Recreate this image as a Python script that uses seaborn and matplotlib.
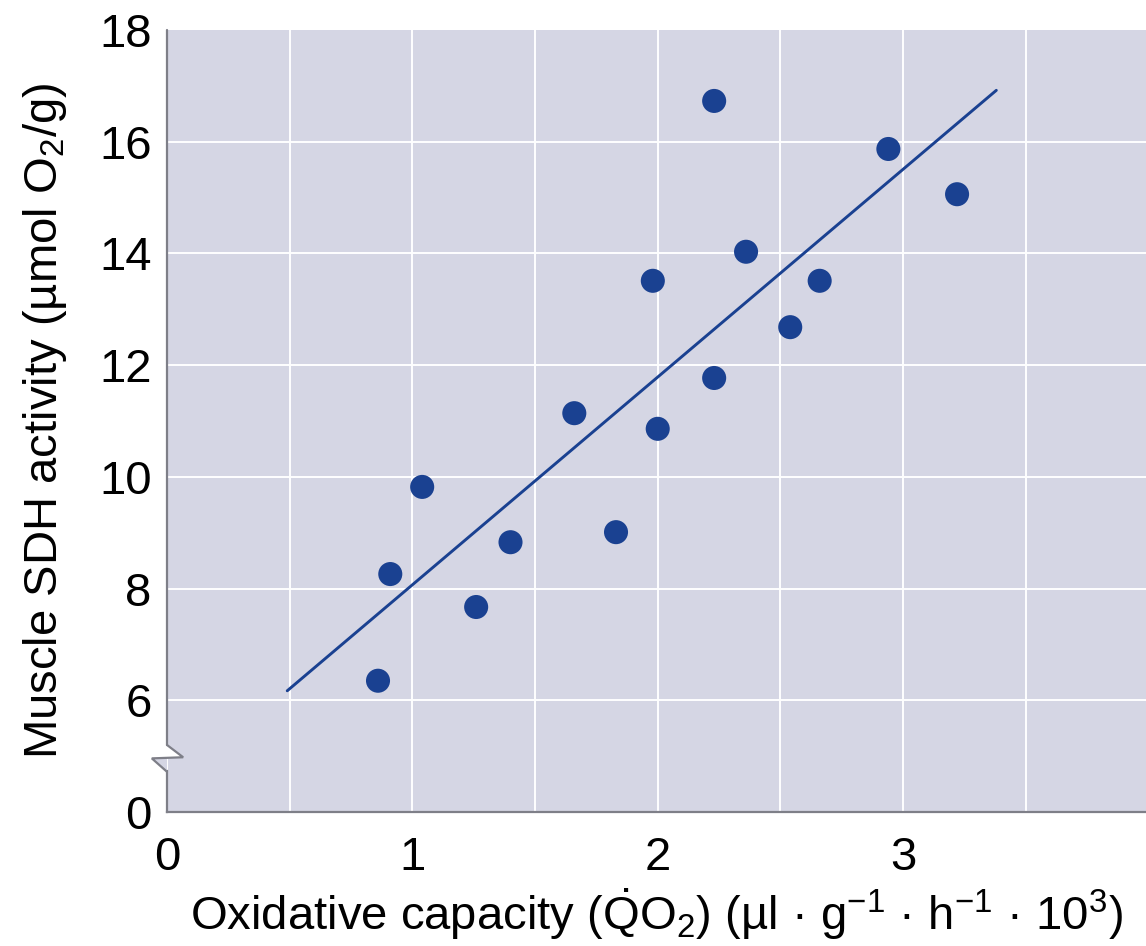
import numpy as np
import pandas as pd
import seaborn as sns
import matplotlib.pyplot as plt
from matplotlib.patches import Polygon

# Oxidative capacity (x) vs muscle SDH activity (y), one value per subject
oxidative_capacity = [0.86, 0.91, 1.04, 1.26, 1.40, 1.66, 1.83, 1.98, 2.00,
                      2.23, 2.23, 2.36, 2.54, 2.66, 2.94, 3.22]
sdh_activity = [6.35, 8.26, 9.82, 7.67, 8.83, 11.14, 9.01, 13.51, 10.86,
                16.73, 11.77, 14.03, 12.68, 13.51, 15.87, 15.06]

# Regression line end points
fit_x = [0.49, 3.38]
fit_y = [6.17, 16.92]

# Y axis is broken below 6: the "0" tick sits one step under 6
ytick_pos = [4, 6, 8, 10, 12, 14, 16, 18]
ytick_labels = ["0", "6", "8", "10", "12", "14", "16", "18"]
xtick_pos = [0, 1, 2, 3]
xtick_labels = ["0", "1", "2", "3"]

BG = "#d5d6e4"
DOT = "#1a4191"
SPINE = "#7e7f88"

sns.set_theme(style="whitegrid")
plt.rcParams["font.family"] = ["Liberation Sans", "DejaVu Sans"]
plt.rcParams["mathtext.fontset"] = "custom"
plt.rcParams["mathtext.rm"] = "Liberation Sans"
plt.rcParams["mathtext.it"] = "Liberation Sans:italic"
plt.rcParams["mathtext.bf"] = "Liberation Sans:bold"
plt.rcParams["text.color"] = "black"
plt.rcParams["axes.labelcolor"] = "black"

fig = plt.figure(figsize=(11.46, 9.46), dpi=100)
ax = fig.add_axes([167 / 1146, 1 - 812 / 946, 979 / 1146, 782 / 946])
ax.set_facecolor(BG)

df = pd.DataFrame({"x": oxidative_capacity, "y": sdh_activity})
fit = pd.DataFrame({"x": fit_x, "y": fit_y})

sns.lineplot(data=fit, x="x", y="y", ax=ax, color=DOT, linewidth=2.1, zorder=3)
sns.scatterplot(data=df, x="x", y="y", ax=ax, color=DOT, s=300,
                edgecolor="none", zorder=4)

ax.set_xlim(0, 3.99)
ax.set_ylim(4, 18)
ax.set_xticks([0.5, 1.5, 2.5, 3.5], minor=True)
ax.set_xticks(xtick_pos)
ax.set_xticklabels(xtick_labels)
ax.set_yticks(ytick_pos)
ax.set_yticklabels(ytick_labels)

ax.grid(False)
ax.grid(True, which="both", axis="x", color="white", linewidth=1.4)
for yv in ytick_pos[1:-1]:
    ax.axhline(yv, color="white", linewidth=1.4, zorder=0.5)
ax.set_axisbelow(True)

ax.tick_params(axis="both", which="both", length=0, labelsize=34,
               colors="black")
ax.tick_params(axis="x", pad=17)
ax.tick_params(axis="y", pad=11)

for side in ("top", "right"):
    ax.spines[side].set_visible(False)
for side in ("left", "bottom"):
    ax.spines[side].set_color(SPINE)
    ax.spines[side].set_linewidth(1.6)

# Axis break on the left spine
ax.spines["left"].set_bounds(4, 4.74)
trans = ax.get_yaxis_transform()
ax.plot([0, 0], [5.2, 18], transform=trans,
        color=SPINE, linewidth=1.6, clip_on=False, zorder=5)
ax.add_patch(Polygon([[0, 5.2], [0.0165, 4.98], [0, 4.98]], closed=True,
                     facecolor="white", edgecolor="none", transform=trans,
                     clip_on=False, zorder=4.5))
ax.add_patch(Polygon([[0, 4.96], [-0.0155, 4.96], [0, 4.72]], closed=True,
                     facecolor=BG, edgecolor="none", transform=trans,
                     clip_on=False, zorder=4.5))
ax.plot([0, 0.0165, -0.0155, 0], [5.2, 4.98, 4.96, 4.72], transform=trans,
        color=SPINE, linewidth=1.6, clip_on=False, zorder=5,
        solid_joinstyle="miter")

ax.set_xlabel(r"Oxidative capacity ($\mathrm{\dot{Q}O_2}$) "
              r"(µl · g$^{-1}$ · h$^{-1}$ · 10$^3$)", fontsize=34,
              color="black")
ax.xaxis.label.set_va("baseline")
ax.xaxis.set_label_coords(0.5, -(930 - 812) / 782)
ax.set_ylabel(r"Muscle SDH activity (µmol O$_2$/g)", fontsize=34,
              labelpad=22, color="black")

fig.savefig("out.png", dpi=100)
